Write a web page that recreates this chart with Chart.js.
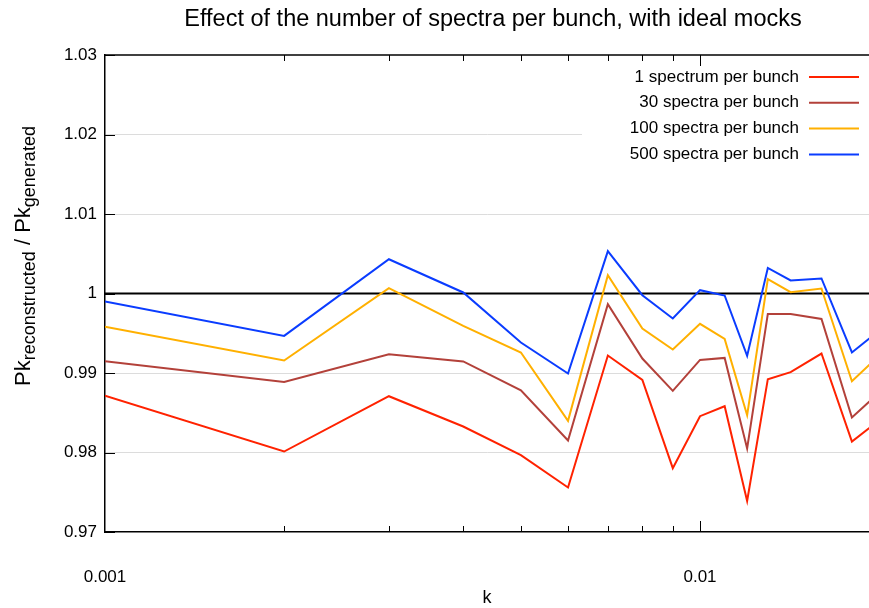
<!DOCTYPE html>
<html>
<head>
<meta charset="utf-8">
<title>Effect of the number of spectra per bunch</title>
<script src="https://cdn.jsdelivr.net/npm/chart.js@4.4.1/dist/chart.umd.min.js"></script>
<style>
  html, body { margin: 0; padding: 0; background: #fff; }
  #wrap { width: 869px; height: 608px; }
</style>
</head>
<body>
<div id="wrap"><canvas id="chart" width="869" height="608"></canvas></div>
<script>
(function () {
  "use strict";

  var chartTitle = "Effect of the number of spectra per bunch, with ideal mocks";
  var xTitle = "k";

  // k bins (the last one sits just past the right edge of the frame)
  var kValues = [0.001, 0.002, 0.003, 0.004, 0.005, 0.006, 0.007, 0.008, 0.009, 0.010,
    0.011, 0.012, 0.013, 0.0142, 0.016, 0.018, 0.020];

  var oneSpectrum = [0.98713, 0.98012, 0.98708, 0.98327, 0.97966, 0.97560, 0.99220, 0.98913, 0.97803,
    0.98457, 0.98582, 0.97391, 0.98922, 0.99011, 0.99245, 0.98138, 0.98405];
  var thirtySpectra = [0.99148, 0.98888, 0.99236, 0.99145, 0.98783, 0.98151, 0.99865, 0.99182, 0.98775,
    0.99165, 0.99190, 0.98050, 0.99743, 0.99743, 0.99680, 0.98440, 0.98754];
  var hundredSpectra = [0.99581, 0.99157, 1.00067, 0.99592, 0.99258, 0.98398, 1.00230, 0.99560, 0.99296,
    0.99618, 0.99429, 0.98469, 1.00180, 1.00016, 1.00063, 0.98897, 0.99220];
  var fiveHundredSpectra = [0.99899, 0.99467, 1.00431, 1.00013, 0.99384, 0.98994, 1.00532, 0.99979, 0.99686,
    1.00042, 0.99975, 0.99215, 1.00322, 1.00164, 1.00189, 0.99258, 0.99533];

  var seriesLabels = ["1 spectrum per bunch", "30 spectra per bunch", "100 spectra per bunch", "500 spectra per bunch"];
  var seriesColors = ["#ff2200", "#b3413a", "#ffb000", "#0a3cff"];

  var xTickLabels = [0.001, 0.01];
  var xMinorTicks = [0.002, 0.003, 0.004, 0.005, 0.006, 0.007, 0.008, 0.009];
  var xMajorTicks = [0.01];
  var kMin = 0.001;
  var kMax = 0.01923;
  var yMin = 0.97;
  var yMax = 1.03;
  var idealRatio = 1;

  var FONT = "'Liberation Sans', Arial, Helvetica, sans-serif";
  Chart.defaults.font.family = FONT;
  Chart.defaults.color = "#000";

  function toPoints(values) {
    return values.map(function (v, i) {
      return { x: kValues[i], y: v };
    });
  }

  var allSeries = [oneSpectrum, thirtySpectra, hundredSpectra, fiveHundredSpectra];
  var datasets = allSeries.map(function (values, i) {
    return {
      label: seriesLabels[i],
      data: toPoints(values),
      borderColor: seriesColors[i],
      backgroundColor: seriesColors[i],
      borderWidth: 2,
      pointRadius: 0,
      tension: 0,
      fill: false
    };
  });

  function formatY(v) {
    return String(Number(v.toFixed(2)));
  }

  function line(ctx, x1, y1, x2, y2) {
    ctx.beginPath();
    ctx.moveTo(x1, y1);
    ctx.lineTo(x2, y2);
    ctx.stroke();
  }

  var decorations = {
    id: "decorations",
    beforeDatasetsDraw: function (chart) {
      var ctx = chart.ctx;
      var area = chart.chartArea;
      var y = chart.scales.y;
      ctx.save();
      // legend box hides the grid behind it
      ctx.fillStyle = "#fff";
      ctx.fillRect(582, area.top + 2, area.right - 582, 113);
      // the "ideal" reference line
      ctx.strokeStyle = "#000";
      ctx.lineWidth = 2;
      line(ctx, area.left, y.getPixelForValue(idealRatio), area.right, y.getPixelForValue(idealRatio));
      ctx.restore();
    },
    afterDraw: function (chart) {
      var ctx = chart.ctx;
      var area = chart.chartArea;
      var xs = chart.scales.x;
      var ys = chart.scales.y;
      ctx.save();

      // top frame line
      ctx.strokeStyle = "#000";
      ctx.lineWidth = 1.5;
      line(ctx, area.left, area.top, area.right, area.top);

      // inward tick marks
      ctx.lineWidth = 1;
      xMinorTicks.forEach(function (k) {
        var px = Math.round(xs.getPixelForValue(k)) + 0.5;
        line(ctx, px, area.top, px, area.top + 6);
        line(ctx, px, area.bottom, px, area.bottom - 6);
      });
      xMajorTicks.forEach(function (k) {
        var px = Math.round(xs.getPixelForValue(k)) + 0.5;
        line(ctx, px, area.top, px, area.top + 11);
        line(ctx, px, area.bottom, px, area.bottom - 11);
      });
      ys.ticks.forEach(function (t) {
        var py = Math.round(ys.getPixelForValue(t.value)) + 0.5;
        line(ctx, area.left, py, area.left + 10, py);
      });

      // title
      ctx.fillStyle = "#000";
      ctx.textAlign = "center";
      ctx.textBaseline = "alphabetic";
      ctx.font = "23.5px " + FONT;
      ctx.fillText(chartTitle, 493, 26);

      // x axis title
      ctx.font = "18px " + FONT;
      ctx.fillText(xTitle, (area.left + area.right) / 2, 603);

      // y axis title with subscripts
      var parts = [
        { t: "Pk", size: 22, shift: 0 },
        { t: "reconstructed", size: 18, shift: 5 },
        { t: " / ", size: 22, shift: 0 },
        { t: "Pk", size: 22, shift: 0 },
        { t: "generated", size: 18, shift: 5 }
      ];
      var total = 0;
      parts.forEach(function (p) {
        ctx.font = p.size + "px " + FONT;
        p.w = ctx.measureText(p.t).width;
        total += p.w;
      });
      ctx.translate(30, 256);
      ctx.rotate(-Math.PI / 2);
      ctx.textAlign = "left";
      var cx = -total / 2;
      parts.forEach(function (p) {
        ctx.font = p.size + "px " + FONT;
        ctx.fillText(p.t, cx, p.shift);
        cx += p.w;
      });
      ctx.setTransform(1, 0, 0, 1, 0, 0);

      // legend
      ctx.font = "17px " + FONT;
      ctx.textAlign = "right";
      ctx.textBaseline = "middle";
      ctx.lineWidth = 2;
      chart.data.datasets.forEach(function (ds, i) {
        var ly = 77 + i * 25.8;
        ctx.fillStyle = "#000";
        ctx.fillText(ds.label, 799, ly);
        ctx.strokeStyle = ds.borderColor;
        line(ctx, 809, ly, 859, ly);
      });
      ctx.restore();
    }
  };

  var canvas = document.getElementById("chart");
  new Chart(canvas.getContext("2d"), {
    type: "line",
    data: { datasets: datasets },
    plugins: [decorations],
    options: {
      responsive: false,
      animation: false,
      devicePixelRatio: 1,
      layout: { padding: { top: 55, right: 0, left: 0, bottom: 0 } },
      plugins: {
        legend: { display: false },
        title: { display: false },
        tooltip: { enabled: false }
      },
      scales: {
        x: {
          type: "logarithmic",
          min: kMin,
          max: kMax,
          afterFit: function (scale) {
            scale.height = 76;
            scale.paddingLeft = 0;
            scale.paddingRight = 0;
          },
          grid: { display: false, drawTicks: false },
          border: { display: true, color: "#000", width: 1.5 },
          ticks: {
            autoSkip: false,
            maxRotation: 0,
            padding: 35,
            font: { size: 17 },
            color: "#000",
            callback: function (value) {
              return xTickLabels.indexOf(Number(value)) >= 0 ? String(value) : "";
            }
          }
        },
        y: {
          min: yMin,
          max: yMax,
          afterFit: function (scale) {
            scale.width = 105;
            scale.paddingTop = 0;
            scale.paddingBottom = 0;
          },
          grid: {
            drawTicks: false,
            lineWidth: 1,
            color: function (c) {
              var v = c.tick ? Number(c.tick.value.toFixed(2)) : 0;
              if (v <= yMin || v >= yMax || v === idealRatio) {
                return "rgba(0,0,0,0)";
              }
              return "#dcdcdc";
            }
          },
          border: { display: true, color: "#000", width: 1.5 },
          ticks: {
            stepSize: 0.01,
            padding: 8,
            font: { size: 17 },
            color: "#000",
            callback: function (value) { return formatY(value); }
          }
        }
      }
    }
  });
})();
</script>
</body>
</html>
